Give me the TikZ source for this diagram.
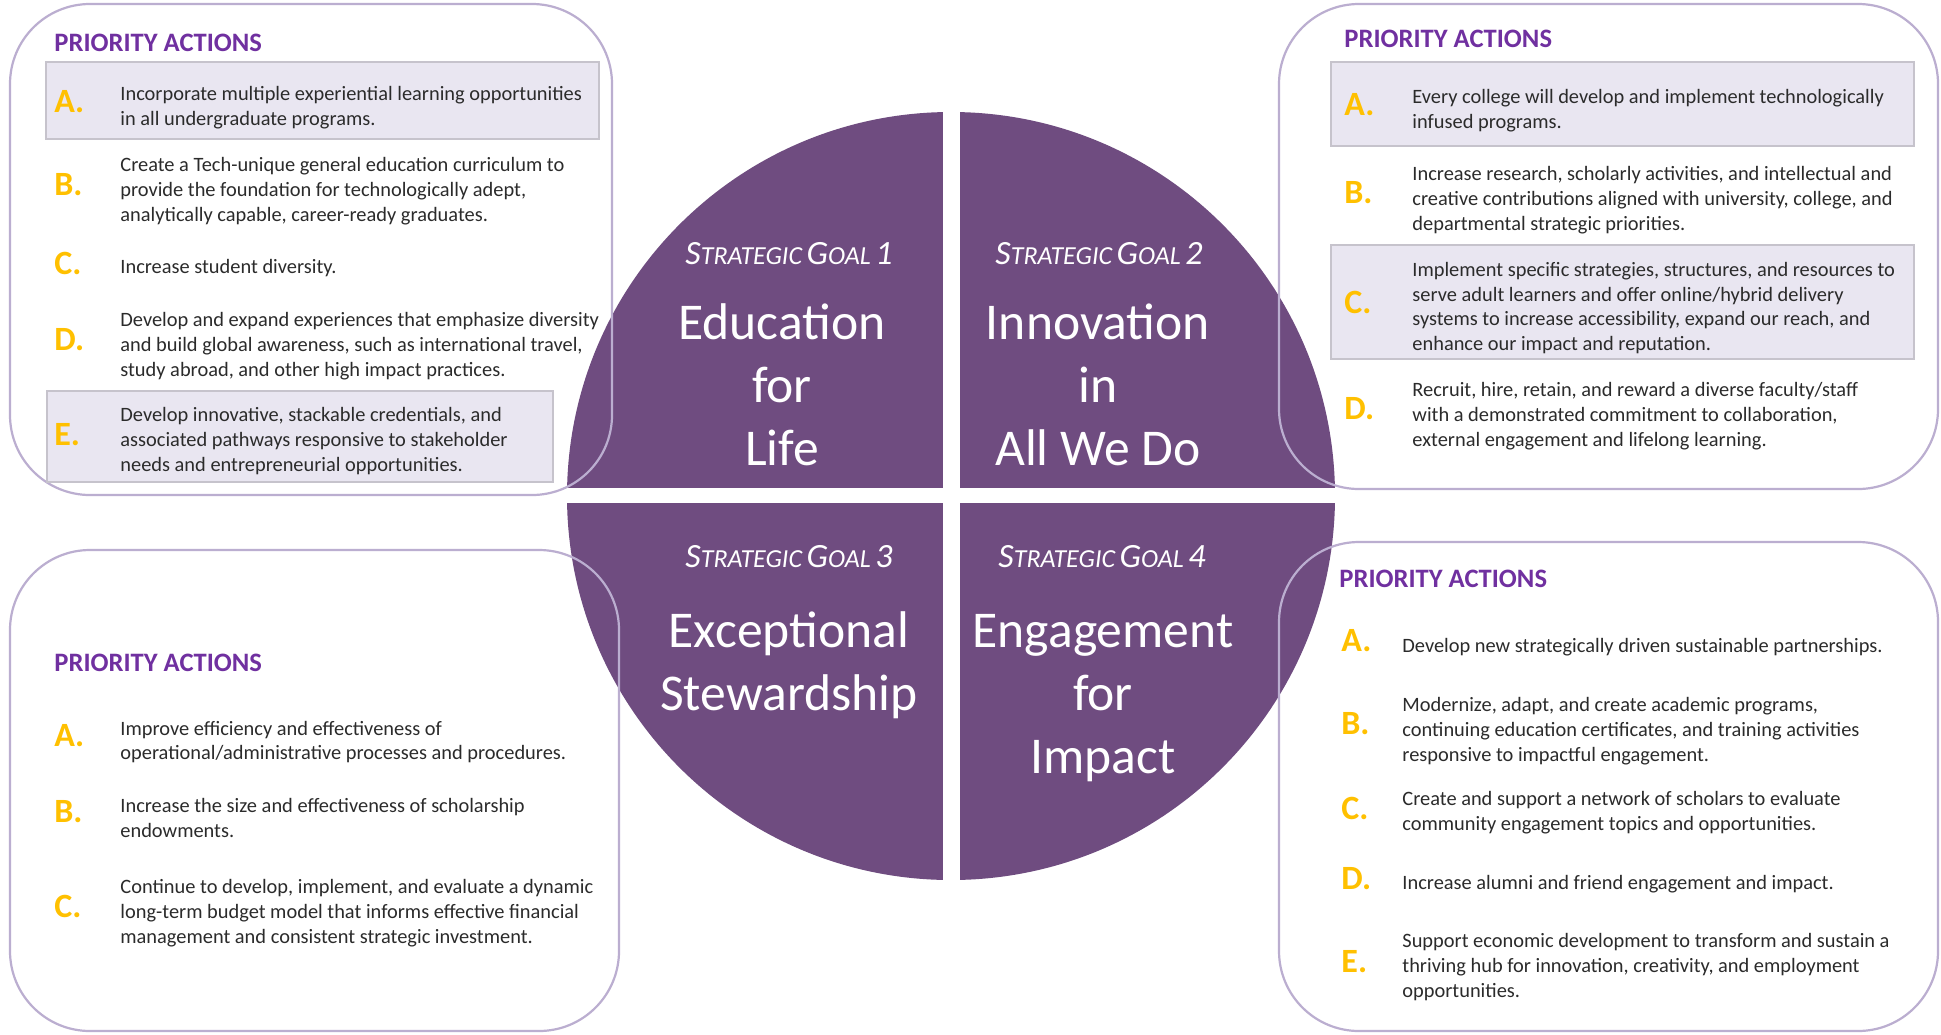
\documentclass[tikz,border=0pt]{standalone}
\usepackage{fontspec}
\setmainfont{Carlito}
\definecolor{circpurple}{HTML}{6F4C80}
\definecolor{boxpurple}{HTML}{BBAED0}
\definecolor{headpurple}{HTML}{7030A0}
\definecolor{gold}{HTML}{FFC000}
\definecolor{bodygrey}{HTML}{2B2B2B}
\definecolor{hlfill}{HTML}{E9E6F1}
\definecolor{hlborder}{HTML}{C6C3CC}
\newcommand{\sgoal}[1]{{\fontsize{17}{20}\selectfont S}{\fontsize{13}{15}\selectfont TRATEGIC} {\fontsize{17}{20}\selectfont G}{\fontsize{13}{15}\selectfont OAL} {\fontsize{17}{20}\selectfont #1}}
\tikzset{
  pbox/.style={draw=boxpurple, line width=1.1pt, rounded corners=40pt},
  hl/.style={fill=hlfill, draw=hlborder, line width=0.6pt},
  head/.style={anchor=west, inner sep=0pt, font=\fontsize{13.3}{15}\selectfont\bfseries, text=headpurple},
  letter/.style={anchor=west, inner sep=0pt, font=\fontsize{17}{20}\selectfont\bfseries, text=gold},
  item/.style={anchor=west, inner sep=0pt, align=left, font=\fontsize{10.2}{12.4}\selectfont, text=bodygrey},
  goal/.style={text=white, inner sep=0pt, align=center, font=\fontsize{25.8}{31.5}\selectfont},
  glabel/.style={text=white, inner sep=0pt, font=\itshape}
}
\begin{document}
\begin{tikzpicture}[x=0.5pt,y=-0.5pt]
\useasboundingbox (0,0) rectangle (1941,1034);
\fill[white] (0,0) rectangle (1941,1034);
% central circle
\fill[circpurple] (951,496) circle[radius=192pt];
\begin{scope}
  \clip (951,496) circle[radius=193pt];
  \fill[white] (943,100) rectangle (960,900);
  \fill[white] (500,488) rectangle (1400,503);
\end{scope}
% boxes
\draw[pbox] (10,4) rectangle (612,495);
\draw[pbox] (1279,4) rectangle (1938,489);
\draw[pbox] (10,550) rectangle (619,1031);
\draw[pbox] (1279,542) rectangle (1938,1031);
% highlight rows
\draw[hl] (46,62) rectangle (599,139);
\draw[hl] (47,391) rectangle (553,482);
\draw[hl] (1331,62) rectangle (1914,146);
\draw[hl] (1331,245) rectangle (1914,359);
% goal labels
\node[glabel] (g1l) at (789,254) {\sgoal{1}};
\node[glabel] (g2l) at (1099,254) {\sgoal{2}};
\node[glabel] (g3l) at (789,557) {\sgoal{3}};
\node[glabel] (g4l) at (1102,557) {\sgoal{4}};
\node[goal] (g1) at (782,385) {Education\\for\\Life};
\node[goal] (g2) at (1098,385) {Innovation\\in\\All We Do};
\node[goal] (g3) at (789,665) {Exceptional\\Stewardship};
\node[goal] (g4) at (1103,698) {Engagement\\for\\Impact};
% top-left
\node[head] (tlh) at (54,43) {PRIORITY ACTIONS};
\node[letter] (tlAl) at (54,102) {A.};
\node[item] (tlA) at (120,108) {Incorporate multiple experiential learning opportunities\\in all undergraduate programs.};
\node[letter] (tlBl) at (54,185) {B.};
\node[item] (tlB) at (120,191) {Create a Tech-unique general education curriculum to\\provide the foundation for technologically adept,\\analytically capable, career-ready graduates.};
\node[letter] (tlCl) at (54,263) {C.};
\node[item] (tlC) at (120,268) {Increase student diversity.};
\node[letter] (tlDl) at (54,340) {D.};
\node[item] (tlD) at (120,346) {Develop and expand experiences that emphasize diversity\\and build global awareness, such as international travel,\\study abroad, and other high impact practices.};
\node[letter] (tlEl) at (54,435) {E.};
\node[item] (tlE) at (120,441) {Develop innovative, stackable credentials, and\\associated pathways responsive to stakeholder\\needs and entrepreneurial opportunities.};
% top-right
\node[head] (trh) at (1344,39) {PRIORITY ACTIONS};
\node[letter] (trAl) at (1344,105) {A.};
\node[item] (trA) at (1412,111) {Every college will develop and implement technologically\\infused programs.};
\node[letter] (trBl) at (1344,193) {B.};
\node[item] (trB) at (1412,200) {Increase research, scholarly activities, and intellectual and\\creative contributions aligned with university, college, and\\departmental strategic priorities.};
\node[letter] (trCl) at (1344,302) {C.};
\node[item] (trC) at (1412,308) {Implement specific strategies, structures, and resources to\\serve adult learners and offer online/hybrid delivery\\systems to increase accessibility, expand our reach, and\\enhance our impact and reputation.};
\node[letter] (trDl) at (1344,409) {D.};
\node[item] (trD) at (1412,416) {Recruit, hire, retain, and reward a diverse faculty/staff\\with a demonstrated commitment to collaboration,\\external engagement and lifelong learning.};
% bottom-left
\node[head] (blh) at (54,663) {PRIORITY ACTIONS};
\node[letter] (blAl) at (54,736) {A.};
\node[item] (blA) at (120,742) {Improve efficiency and effectiveness of\\operational/administrative processes and procedures.};
\node[letter] (blBl) at (54,812) {B.};
\node[item] (blB) at (120,818) {Increase the size and effectiveness of scholarship\\endowments.};
\node[letter] (blCl) at (54,906) {C.};
\node[item] (blC) at (120,913) {Continue to develop, implement, and evaluate a dynamic\\long-term budget model that informs effective financial\\management and consistent strategic investment.};
% bottom-right
\node[head] (brh) at (1339,579) {PRIORITY ACTIONS};
\node[letter] (brAl) at (1341,641) {A.};
\node[item] (brA) at (1402,647) {Develop new strategically driven sustainable partnerships.};
\node[letter] (brBl) at (1341,724) {B.};
\node[item] (brB) at (1402,731) {Modernize, adapt, and create academic programs,\\continuing education certificates, and training activities\\responsive to impactful engagement.};
\node[letter] (brCl) at (1341,808) {C.};
\node[item] (brC) at (1402,813) {Create and support a network of scholars to evaluate\\community engagement topics and opportunities.};
\node[letter] (brDl) at (1341,879) {D.};
\node[item] (brD) at (1402,884) {Increase alumni and friend engagement and impact.};
\node[letter] (brEl) at (1341,962) {E.};
\node[item] (brE) at (1402,967) {Support economic development to transform and sustain a\\thriving hub for innovation, creativity, and employment\\opportunities.};
\end{tikzpicture}
\end{document}
